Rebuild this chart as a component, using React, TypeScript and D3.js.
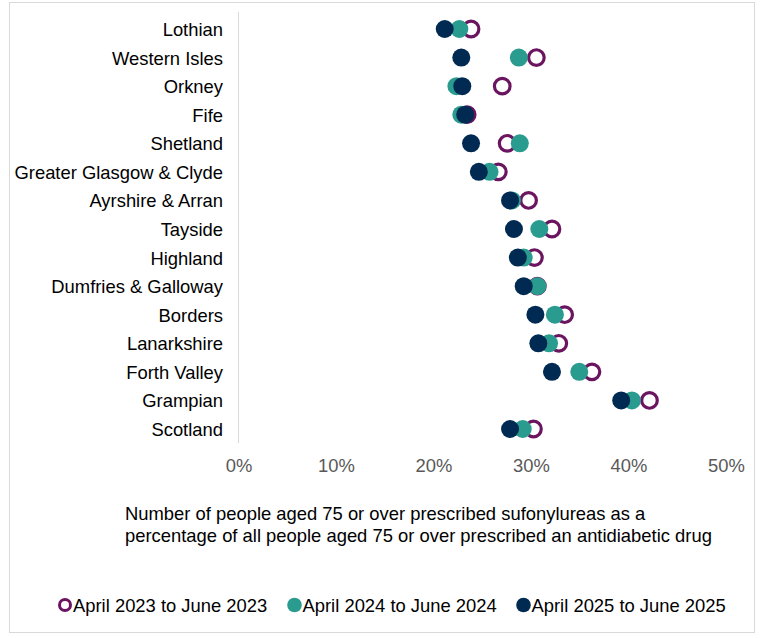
import React, { useRef, useEffect } from "react"
import * as d3 from "d3"

const boards = [
  "Lothian",
  "Western Isles",
  "Orkney",
  "Fife",
  "Shetland",
  "Greater Glasgow & Clyde",
  "Ayrshire & Arran",
  "Tayside",
  "Highland",
  "Dumfries & Galloway",
  "Borders",
  "Lanarkshire",
  "Forth Valley",
  "Grampian",
  "Scotland",
]

const values2023 = [23.8, 30.5, 27.0, 23.4, 27.5, 26.6, 29.7, 32.1, 30.3, 30.6, 33.4, 32.8, 36.2, 42.1, 30.2]
const values2024 = [22.6, 28.7, 22.3, 22.8, 28.8, 25.7, 28.0, 30.8, 29.2, 30.6, 32.4, 31.8, 34.9, 40.3, 29.1]
const values2025 = [21.1, 22.8, 22.9, 23.2, 23.8, 24.6, 27.8, 28.2, 28.6, 29.2, 30.4, 30.7, 32.1, 39.2, 27.8]

const xTicks = [0, 10, 20, 30, 40, 50]

const seriesNames = ["April 2023 to June 2023", "April 2024 to June 2024", "April 2025 to June 2025"]

const PURPLE = "#6b1460"
const TEAL = "#2a9b8f"
const NAVY = "#002a52"

const W = 769
const H = 638

const DotChart: React.FC = () => {
  const svgRef = useRef<SVGSVGElement | null>(null)

  useEffect(() => {
    if (!svgRef.current) return
    const svg = d3.select(svgRef.current)
    svg.selectAll("*").remove()

    const font = "Arial, 'Liberation Sans', sans-serif"
    const fs = 18.4

    svg.append("rect")
      .attr("width", W).attr("height", H)
      .attr("fill", "white")

    // outer frame
    svg.append("rect")
      .attr("x", 9.5).attr("y", 2.5)
      .attr("width", 745).attr("height", 630)
      .attr("fill", "none").attr("stroke", "#d9d9d9")

    const x = d3.scaleLinear().domain([0, 50]).range([239, 726.5])
    const y = d3.scalePoint().domain(boards).range([29, 429])

    // vertical axis line
    svg.append("line")
      .attr("x1", 238.5).attr("x2", 238.5)
      .attr("y1", 12).attr("y2", 443)
      .attr("stroke", "#d9d9d9").attr("stroke-width", 1)

    // category labels
    svg.append("g")
      .selectAll("text")
      .data(boards)
      .enter()
      .append("text")
      .attr("x", 223)
      .attr("y", (d) => y(d)!)
      .attr("dy", "0.38em")
      .attr("text-anchor", "end")
      .attr("font-family", font)
      .attr("font-size", fs)
      .attr("fill", "#000")
      .text((d) => d)

    // x tick labels
    svg.append("g")
      .selectAll("text")
      .data(xTicks)
      .enter()
      .append("text")
      .attr("x", (d) => x(d))
      .attr("y", 472)
      .attr("text-anchor", "middle")
      .attr("font-family", font)
      .attr("font-size", fs)
      .attr("fill", "#595959")
      .text((d) => `${d}%`)

    // 2023 rings
    svg.append("g")
      .selectAll("circle")
      .data(values2023)
      .enter()
      .append("circle")
      .attr("cx", (d) => x(d))
      .attr("cy", (_, i) => y(boards[i])!)
      .attr("r", 7.8)
      .attr("fill", "white")
      .attr("stroke", PURPLE)
      .attr("stroke-width", 3.2)

    // 2024 dots
    svg.append("g")
      .selectAll("circle")
      .data(values2024)
      .enter()
      .append("circle")
      .attr("cx", (d) => x(d))
      .attr("cy", (_, i) => y(boards[i])!)
      .attr("r", 9)
      .attr("fill", TEAL)

    // 2025 dots
    svg.append("g")
      .selectAll("circle")
      .data(values2025)
      .enter()
      .append("circle")
      .attr("cx", (d) => x(d))
      .attr("cy", (_, i) => y(boards[i])!)
      .attr("r", 9)
      .attr("fill", NAVY)

    // axis title
    const title = svg.append("text")
      .attr("font-family", font)
      .attr("font-size", fs)
      .attr("fill", "#000")
    title.append("tspan").attr("x", 125).attr("y", 520)
      .text("Number of people aged 75 or over prescribed sufonylureas as a")
    title.append("tspan").attr("x", 125).attr("y", 542)
      .text("percentage of all people aged 75 or over prescribed an antidiabetic drug")

    // legend
    const legendX = [65, 294.5, 523.5]
    const lg = svg.append("g")
    seriesNames.forEach((name, i) => {
      const cx = legendX[i]
      if (i === 0) {
        lg.append("circle").attr("cx", cx).attr("cy", 605).attr("r", 5.5)
          .attr("fill", "white").attr("stroke", PURPLE).attr("stroke-width", 3)
      } else {
        lg.append("circle").attr("cx", cx).attr("cy", 605).attr("r", 7.3)
          .attr("fill", i === 1 ? TEAL : NAVY)
      }
      lg.append("text")
        .attr("x", cx + 8)
        .attr("y", 605)
        .attr("dy", "0.36em")
        .attr("font-family", font)
        .attr("font-size", fs)
        .attr("fill", "#000")
        .text(name)
    })
  }, [])

  return (
    <svg
      ref={svgRef}
      width={W}
      height={H}
      style={{ position: "absolute", left: 0, top: 0 }}
    ></svg>
  )
}

export default function App() {
  return <DotChart />
}
